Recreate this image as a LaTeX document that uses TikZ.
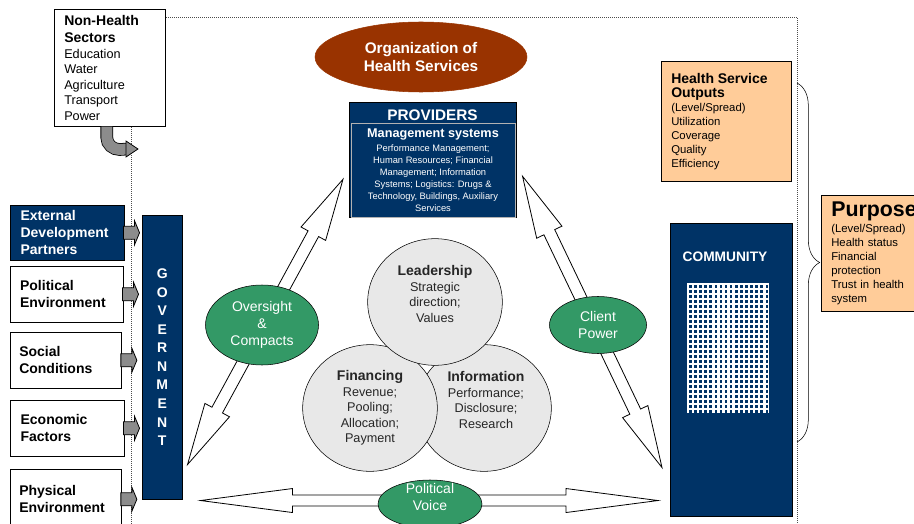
\documentclass[tikz,border=0pt]{standalone}
\usepackage{fontspec}
\setmainfont{Liberation Sans}
\usepackage{xcolor}
\usepackage{tikz}
\usetikzlibrary{arrows.meta,positioning,calc,shapes.geometric,decorations.pathreplacing}
\definecolor{hsnavy}{HTML}{003366}
\definecolor{hsbrown}{HTML}{993300}
\definecolor{hsgreen}{HTML}{339966}
\definecolor{hspeach}{HTML}{FFCC99}
\definecolor{hscircle}{HTML}{E8E8E8}
\definecolor{hsarrow}{HTML}{8C8C8C}

\newcommand{\hbf}{\bfseries\fontsize{10.5}{12.75}\selectfont}
% hollow two-headed arrow: from, to, head length, head half width, shaft half width, prefix
\newcommand{\twoway}[6]{%
  \coordinate (#6a) at ($(#1)!#3!(#2)$);
  \coordinate (#6b) at ($(#2)!#3!(#1)$);
  \filldraw[blockarrow] (#1)
    -- ($(#6a)!#4!90:(#2)$) -- ($(#6a)!#5!90:(#2)$)
    -- ($(#6b)!#5!-90:(#1)$) -- ($(#6b)!#4!-90:(#1)$)
    -- (#2)
    -- ($(#6b)!#4!90:(#1)$) -- ($(#6b)!#5!90:(#1)$)
    -- ($(#6a)!#5!-90:(#2)$) -- ($(#6a)!#4!-90:(#2)$)
    -- cycle;}

\begin{document}
\begin{tikzpicture}[
  x=0.75pt, y=-0.75pt,
  frameline/.style={densely dotted, draw=black!70, line width=0.5pt},
  sector/.style={draw, fill=white, anchor=north west, align=left, inner xsep=7.5pt,
    minimum width=83.25pt, minimum height=87.75pt, text width=68.25pt,
    font=\fontsize{9.5}{11.6}\selectfont},
  factor/.style={draw, fill=white, anchor=north west, align=left, inner xsep=6.75pt,
    minimum width=84.75pt, minimum height=42pt, text width=70pt,
    font=\bfseries\fontsize{10.5}{12.75}\selectfont},
  navybox/.style={draw, fill=hsnavy, text=white, anchor=north west, inner sep=0pt},
  topic/.style={ellipse, draw, fill=hscircle, minimum width=101pt, minimum height=95pt},
  topictext/.style={align=center, text=black!85, font=\fontsize{9.5}{11.6}\selectfont},
  lever/.style={ellipse, draw, fill=hsgreen, text=white, align=center, inner sep=0pt,
    font=\fontsize{10.5}{12.75}\selectfont},
  blockarrow/.style={draw, fill=white, line width=0.6pt},
  sidearrow/.style={draw, fill=hsarrow, line width=0.6pt, line join=miter},
  outcome/.style={draw, fill=hspeach, anchor=north west, align=left, inner xsep=7.5pt,
    font=\fontsize{8.5}{10.5}\selectfont}
]
\useasboundingbox (0,0) rectangle (914,524);
\clip (0,0) rectangle (914,524);

% boundary of the health system
\draw[frameline] (131,524) -- (131,17) -- (797,17) -- (797,524);

\node[sector] (nonhealth) at (54,9) {{\hbf Non-Health\\[1.5pt]Sectors}\\Education\\Water\\Agriculture\\Transport\\Power};
\coordinate (sectorsin) at (127,149);
\draw[double=hsarrow, double distance=8.25pt, line width=0.6pt]
  ([xshift=-2.25pt]nonhealth.south) -- ++(0,11) to[out=-90,in=180] ++(13,12) -- (sectorsin);
\filldraw[sidearrow] (sectorsin) ++(-1,-8) -- ++(12,8) -- ++(-12,8) -- cycle;

\node[ellipse, fill=hsbrown, draw=hsbrown, text=white, align=center,
  minimum width=159pt, minimum height=52.5pt,
  font=\bfseries\fontsize{11.5}{13.5}\selectfont] (orghs) at (421,57) {Organization of\\Health Services};

% providers
\node[navybox, minimum width=125.25pt, minimum height=86.25pt] (providers) at (349,102) {};
\node[navybox, draw=gray!60, minimum width=123pt, minimum height=70.5pt] (mgmt) at (351,123) {};
\node[text=white, font=\bfseries\fontsize{11.5}{13}\selectfont] (provtitle) at (432.5,115) {PROVIDERS};
\node[text=white, align=center, anchor=north, inner sep=0pt, font=\fontsize{7}{9}\selectfont] (mgmttext) at (433,129)
  {{\bfseries\fontsize{9.5}{11}\selectfont Management systems}\\[1pt]Performance Management;\\Human Resources; Financial\\Management; Information\\Systems; Logistics: Drugs \&\\Technology, Buildings, Auxiliary\\Services};

% government and the factors acting on it
\node[navybox, minimum width=30pt, minimum height=213pt, align=center,
  font=\bfseries\fontsize{10.5}{13.9}\selectfont] (gov) at (142,215) {G\\O\\V\\E\\R\\N\\M\\E\\N\\T};

\node[factor, fill=hsnavy, text=white, minimum height=41.25pt, minimum width=85.5pt] (donors) at (10,205) {External\\Development\\Partners};
\node[factor] (political) at (10,266) {Political\\Environment};
\node[factor, minimum width=82.5pt] (social) at (10,332) {Social\\Conditions};
\node[factor, minimum width=85.5pt] (economic) at (10,400) {Economic\\Factors};
\node[factor, minimum width=82.5pt, minimum height=45pt] (physical) at (10,469) {Physical\\Environment};
\foreach \f in {donors,political,social,economic,physical}
  \filldraw[sidearrow] (\f.east) ++(-1,-6.5) -- ++(11,0) -- ++(0,-5.5) -- ++(5,12)
    -- ++(-5,12) -- ++(0,-5.5) -- ++(-11,0) -- cycle;

% community
\node[navybox, minimum width=91.5pt, minimum height=219.75pt] (community) at (670,223) {};
\node[text=white, font=\bfseries\fontsize{10.3}{12}\selectfont] (commtitle) at (725,257) {COMMUNITY};
\fill[white] (687,283) rectangle (769,413);
\foreach \col in {0,...,15}
  \foreach \row in {0,...,25}
    \fill[hsnavy] ({689+5.1*\col},{285+5*\row}) rectangle ++(2.6,2.6);

% accountability arrows
\coordinate (ovgov) at ($(gov.south east)+(5,-35)$);
\coordinate (ovprov) at ($(providers.west)+(-6,19.5)$);
\coordinate (cpprov) at ($(providers.east)+(6,16.5)$);
\coordinate (cpcomm) at ($(community.south west)+(-8,-49)$);
\coordinate (pvgov) at ($(gov.south east)+(18,1)$);
\coordinate (pvcomm) at ($(community.south west)+(-12,-16)$);
\twoway{ovgov}{ovprov}{46.5pt}{10.5pt}{4.5pt}{ov}
\twoway{cpprov}{cpcomm}{46.5pt}{10.5pt}{4.5pt}{cp}
\twoway{pvgov}{pvcomm}{69pt}{9pt}{4.1pt}{pv}

\node[lever, minimum width=84.75pt, minimum height=60pt] (oversight) at (262,325) {Oversight\\\&\\Compacts};
\node[lever, minimum width=72.75pt, minimum height=42.75pt] (clientpower) at (598,325) {Client\\Power};
\node[lever, minimum width=78pt, minimum height=36pt] (polvoice) at (430,504) {};
\node[text=white, align=center, font=\fontsize{10.5}{12.75}\selectfont] (polvoicetext) at (430,497) {Political\\Voice};

% core functions
\node[topic] (information) at (484,408) {};
\node[topic] (financing) at (370,408) {};
\node[topic] (leadership) at (435,302) {};
\node[topictext] (leadtext) at ([yshift=6pt]leadership.center) {{\bfseries\fontsize{10.5}{12}\selectfont Leadership}\\Strategic\\direction;\\Values};
\node[topictext] (fintext) at (financing.center) {{\bfseries\fontsize{10.5}{12}\selectfont Financing}\\Revenue;\\Pooling;\\Allocation;\\Payment};
\node[topictext] (infotext) at ([yshift=6pt,xshift=1.5pt]information.center) {{\bfseries\fontsize{10.5}{12}\selectfont Information}\\Performance;\\Disclosure;\\Research};

% results
\node[outcome, minimum width=97.5pt, minimum height=90pt, text width=82.5pt] (outputs) at (661,61)
  {{\hbf Health Service\\Outputs}\\(Level/Spread)\\Utilization\\Coverage\\Quality\\Efficiency};
\draw[decorate, decoration={brace, amplitude=17pt}] (797,83) -- (797,442);
\node[outcome, minimum width=90pt, minimum height=87pt, text width=75pt] (purpose) at (821,195)
  {{\bfseries\fontsize{16}{18}\selectfont Purpose}\\[1pt](Level/Spread)\\Health status\\Financial\\protection\\Trust in health\\system};
\end{tikzpicture}
\end{document}
